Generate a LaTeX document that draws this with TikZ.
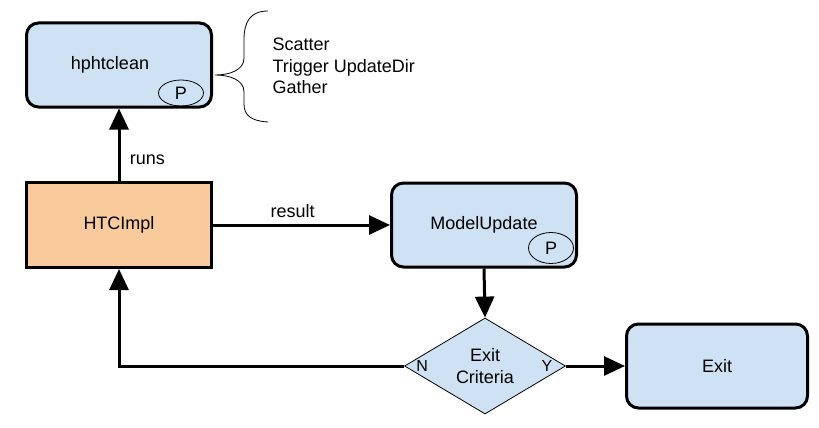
\documentclass[tikz,border=0pt]{standalone}
\usepackage{fontspec}
\setmainfont{Liberation Sans}
\usetikzlibrary{shapes.geometric,arrows.meta}
\definecolor{boxblue}{HTML}{CFE2F3}
\definecolor{boxorange}{HTML}{F9CB9C}

\begin{document}
\begin{tikzpicture}[x=1pt,y=-1pt,
    font=\fontsize{18}{21.5}\selectfont,
    procbox/.style={draw,line width=3pt,rounded corners=12pt,fill=boxblue,
      minimum width=185pt,minimum height=84pt,inner sep=0pt},
    implbox/.style={draw,line width=3pt,fill=boxorange,
      minimum width=185pt,minimum height=85pt,inner sep=0pt},
    pmark/.style={draw,ellipse,line width=0.8pt,inner sep=0pt},
    decision/.style={draw,diamond,line width=0.8pt,fill=boxblue,
      minimum width=161pt,minimum height=96pt,inner sep=0pt,align=center},
    flow/.style={line width=3pt,-{Triangle[length=21pt,width=19pt]}}]
  \useasboundingbox (0,0) rectangle (819,428);

  % boxes
  \node[procbox] (clean) at (119,65) {hphtclean\hspace*{18pt}};
  \node[implbox] (impl) at (119,225) {HTCImpl};
  \node[procbox] (model) at (484,225) {ModelUpdate};
  \node[decision] (crit) at (485,366) {Exit\\Criteria};
  \node[procbox,minimum width=181pt] (exit) at (717,366) {Exit};

  % parallel marks
  \node[pmark,minimum width=45pt,minimum height=26pt] (cleanP) at (181,93) {P};
  \node[pmark,minimum width=45pt,minimum height=31pt] (modelP) at (551,248) {P};

  % decision labels
  \node[font=\fontsize{16}{19}\selectfont] at ([xshift=18pt]crit.west) {N};
  \node[font=\fontsize{16}{19}\selectfont] at ([xshift=-19pt]crit.east) {Y};

  % connectors
  \draw[flow] (impl.north) -- (clean.south) node[pos=0.3,right=6pt] {runs};
  \draw[flow] (impl.east) -- (model.west) node[pos=0.45,above=2pt] {result};
  \draw[flow] (model.south) -- (crit.north);
  \draw[flow] (crit.east) -- (exit.west);
  \draw[flow] (crit.west) -- (crit.west -| impl.south) -- (impl.south);

  % brace with steps
  \coordinate (tip) at (215,75);
  \draw[line width=0.8pt] (268,11) .. controls (250,11) and (244,22) .. (244,40)
    -- (244,58) .. controls (244,70) and (230,75) .. (tip)
    .. controls (230,75) and (244,80) .. (244,92) -- (244,104)
    .. controls (244,116) and (252,121) .. (268,122);
  \node[anchor=west,align=left] (steps) at (269,66)
    {Scatter\\Trigger UpdateDir\\Gather};
\end{tikzpicture}
\end{document}
